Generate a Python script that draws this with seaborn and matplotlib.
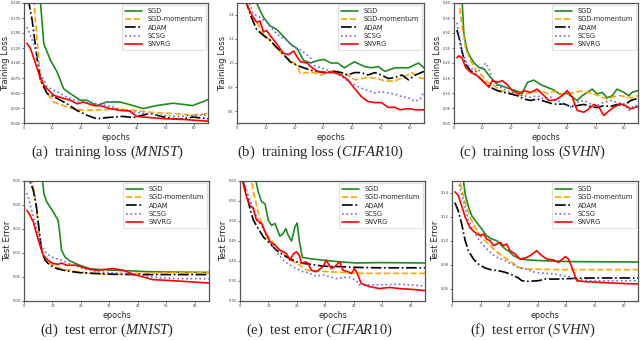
import matplotlib
matplotlib.use("Agg")
import matplotlib.pyplot as plt
import seaborn as sns
from matplotlib.ticker import FormatStrFormatter

# ---------------- data ----------------
methods = ["SGD", "SGD-momentum", "ADAM", "SCSG", "SNVRG"]
x_ticks = [0, 10, 20, 30, 40, 50, 60]

# (a) training loss MNIST
a_sgd_ep = [1, 3, 5, 5.85, 7, 9.4, 11.7, 14, 16.4, 19.9, 22.2, 25.7, 29.2, 33.9, 38.6, 42.1, 46.8, 52.6, 59.6, 65]
a_sgd = [0.60, 0.40, 0.25, 0.20, 0.132, 0.104, 0.085, 0.057, 0.049, 0.038, 0.038, 0.029, 0.035, 0.035, 0.029, 0.024, 0.029, 0.033, 0.029, 0.039]
a_mom_ep = [1, 2, 3.5, 5.85, 8.2, 10.5, 14, 17, 21, 26.9, 32.7, 38.6, 46.8, 52.6, 59.6, 65]
a_mom = [0.50, 0.35, 0.20, 0.071, 0.049, 0.035, 0.029, 0.024, 0.021, 0.022, 0.024, 0.021, 0.017, 0.016, 0.013, 0.016]
a_adam_ep = [1, 1.75, 2.9, 4.7, 5.85, 8.2, 11.7, 15.2, 18.7, 22.2, 25.7, 29.2, 35.1, 38.6, 44.4, 50.3, 55, 59.6, 65]
a_adam = [0.24, 0.20, 0.171, 0.104, 0.071, 0.049, 0.041, 0.032, 0.021, 0.013, 0.007, 0.009, 0.011, 0.009, 0.016, 0.009, 0.006, 0.010, 0.007]
a_scsg_ep = [1, 3.5, 5.85, 8.2, 11.7, 15.2, 19.9, 25.7, 30.4, 35.1, 40.9, 48, 55, 59.6, 65]
a_scsg = [0.160, 0.132, 0.082, 0.060, 0.052, 0.043, 0.035, 0.032, 0.028, 0.021, 0.017, 0.013, 0.011, 0.013, 0.013]
a_snvrg_ep = [1, 2.3, 3.5, 5.3, 7, 10.5, 14, 16.4, 18.7, 21, 24.6, 26.9, 30.4, 33.9, 37.4, 39.8, 44.4, 50.3, 56.1, 62, 65]
a_snvrg = [0.133, 0.124, 0.107, 0.082, 0.063, 0.046, 0.041, 0.038, 0.032, 0.035, 0.029, 0.029, 0.024, 0.021, 0.020, 0.011, 0.009, 0.007, 0.006, 0.004, 0.003]

# (b) training loss CIFAR10
b_sgd_ep = [1, 4, 6.8, 9.2, 11.5, 13.8, 16.2, 18.5, 20.9, 23.2, 25.6, 27.9, 30.3, 32.6, 35, 37.3, 40.8, 44.4, 46.7, 49.1, 51.4, 54.9, 59.6, 63.1, 65]
b_sgd = [2.0, 1.7, 1.5, 1.38, 1.31, 1.28, 1.22, 1.16, 1.12, 1.02, 1.00, 1.02, 1.03, 1.00, 1.00, 0.96, 1.01, 0.97, 0.96, 0.97, 0.93, 0.96, 0.96, 1.00, 0.96]
b_mom_ep = [1, 3.3, 4.5, 6.8, 9.2, 11.5, 13.8, 16.2, 18.5, 20.9, 22.1, 24.4, 26.8, 29.1, 31.5, 33.8, 36.2, 38.5, 40.8, 43.2, 45.5, 49.1, 51.4, 54.9, 58.5, 60.8, 63.1, 65]
b_mom = [1.9, 1.5, 1.42, 1.34, 1.24, 1.19, 1.12, 1.07, 1.02, 0.98, 0.91, 0.92, 0.92, 0.90, 0.92, 0.94, 0.92, 0.90, 0.86, 0.87, 0.88, 0.87, 0.85, 0.85, 0.89, 0.92, 0.88, 0.87]
b_adam_ep = [1, 3.3, 5, 6.8, 9.2, 11.5, 13.8, 16.2, 18.5, 20.9, 23.2, 25.6, 27.9, 30.3, 33.8, 36.2, 38.5, 40.8, 43.2, 45.5, 47.9, 50.2, 52.6, 54.9, 57.3, 59.6, 62, 65]
b_adam = [1.8, 1.5, 1.38, 1.28, 1.23, 1.19, 1.13, 1.07, 1.01, 0.98, 0.96, 0.94, 0.93, 0.92, 0.93, 0.92, 0.90, 0.92, 0.92, 0.90, 0.92, 0.90, 0.87, 0.88, 0.90, 0.86, 0.90, 0.93]
b_scsg_ep = [1, 3, 5.6, 8, 10.3, 12.7, 15, 17.4, 19.7, 22.1, 23.2, 25.6, 26.8, 29.1, 31.5, 33.8, 36.2, 38.5, 40.8, 43.2, 45.5, 47.9, 50.2, 52.6, 54.9, 57.3, 59.6, 62, 63.7, 65]
b_scsg = [1.9, 1.6, 1.41, 1.38, 1.34, 1.27, 1.22, 1.19, 1.13, 1.11, 1.09, 1.04, 0.98, 0.96, 0.94, 0.92, 0.89, 0.85, 0.82, 0.79, 0.77, 0.75, 0.76, 0.75, 0.74, 0.72, 0.71, 0.68, 0.70, 0.76]
b_snvrg_ep = [1, 3.3, 4.5, 5.6, 6.8, 8, 9.2, 10.3, 11.5, 13.8, 16.2, 18, 19.7, 20.9, 22.1, 24.4, 25.6, 27.9, 31.5, 33.8, 36.2, 38.5, 40.8, 43.2, 45.5, 47.9, 50.2, 52.6, 54.9, 56.7, 59.6, 62, 65]
b_snvrg = [1.8, 1.5, 1.43, 1.38, 1.34, 1.35, 1.26, 1.27, 1.23, 1.16, 1.08, 1.07, 1.10, 1.05, 1.01, 1.00, 0.97, 0.93, 0.92, 0.92, 0.90, 0.86, 0.79, 0.72, 0.68, 0.67, 0.67, 0.63, 0.63, 0.61, 0.62, 0.61, 0.61]

# (c) training loss SVHN
c_sgd_ep = [1, 2.9, 3.5, 4.7, 5.9, 7.1, 8.8, 10.6, 12.9, 15.3, 17.6, 20, 22.4, 24.1, 25.9, 28.2, 30.6, 32.9, 35.3, 37.6, 40, 41.8, 43.5, 45.3, 47.1, 48.8, 50.6, 52.4, 54.1, 55.9, 57.6, 60, 61.8, 62.9, 65]
c_sgd = [0.60, 0.40, 0.295, 0.24, 0.218, 0.200, 0.185, 0.180, 0.152, 0.128, 0.121, 0.113, 0.106, 0.099, 0.135, 0.143, 0.128, 0.119, 0.110, 0.095, 0.099, 0.086, 0.075, 0.091, 0.102, 0.113, 0.097, 0.102, 0.084, 0.091, 0.113, 0.102, 0.091, 0.102, 0.108]
c_mom_ep = [1, 1.8, 2.9, 4.1, 5.9, 8.2, 10, 11.8, 14.1, 16.5, 18.8, 21.2, 23.5, 25.9, 28.2, 30.6, 32.9, 35.3, 37.6, 40, 42.4, 44.7, 47.1, 49.4, 51.8, 54.1, 56.5, 58.8, 61.2, 62.9, 65]
c_mom = [0.48, 0.40, 0.317, 0.25, 0.207, 0.169, 0.158, 0.136, 0.125, 0.108, 0.102, 0.097, 0.091, 0.099, 0.102, 0.108, 0.099, 0.106, 0.097, 0.095, 0.102, 0.106, 0.102, 0.097, 0.088, 0.080, 0.088, 0.091, 0.086, 0.084, 0.091]
c_adam_ep = [1, 1.8, 2.9, 4.1, 5.9, 8.2, 10.6, 12.9, 15.3, 17.6, 20, 22.4, 24.7, 27.1, 29.4, 31.8, 34.1, 36.5, 38.8, 41.2, 43.5, 45.9, 48.2, 50.6, 52.9, 55.3, 57.6, 60, 62.4, 64.1, 65]
c_adam = [0.31, 0.284, 0.235, 0.196, 0.174, 0.158, 0.136, 0.119, 0.108, 0.102, 0.097, 0.091, 0.080, 0.075, 0.080, 0.073, 0.066, 0.062, 0.064, 0.055, 0.058, 0.062, 0.055, 0.051, 0.058, 0.055, 0.062, 0.058, 0.075, 0.080, 0.075]
c_scsg_ep = [1, 1.8, 2.9, 4.7, 6.5, 8.2, 10, 11.2, 12.4, 13.5, 15.3, 17.6, 20, 22.4, 24.7, 27.1, 29.4, 31.8, 34.1, 36.5, 38.8, 41.2, 43.5, 45.9, 48.2, 50.6, 52.9, 55.3, 57.6, 60, 61.8, 63.5, 65]
c_scsg = [0.334, 0.295, 0.24, 0.196, 0.180, 0.169, 0.185, 0.200, 0.180, 0.147, 0.125, 0.113, 0.102, 0.097, 0.091, 0.086, 0.091, 0.080, 0.086, 0.075, 0.062, 0.053, 0.069, 0.075, 0.064, 0.058, 0.069, 0.075, 0.069, 0.064, 0.042, 0.058, 0.058]
c_snvrg_ep = [1, 1.8, 2.9, 4.1, 5.9, 8.2, 10.6, 12.4, 13.5, 15.3, 17.1, 18.8, 20.6, 22.9, 24.7, 27.1, 29.4, 31.8, 33.5, 35.9, 38.2, 40, 41.8, 43.5, 45.9, 47.6, 49.4, 51.2, 52.9, 54.7, 56.5, 58.8, 60.6, 62.4, 65]
c_snvrg = [0.218, 0.224, 0.216, 0.185, 0.169, 0.158, 0.136, 0.119, 0.141, 0.136, 0.141, 0.128, 0.108, 0.097, 0.108, 0.102, 0.113, 0.091, 0.075, 0.077, 0.091, 0.108, 0.086, 0.042, 0.036, 0.047, 0.062, 0.053, 0.025, 0.040, 0.053, 0.064, 0.058, 0.047, 0.055]

# (d) test error MNIST
d_sgd_ep = [1, 4, 6.5, 7, 8, 10.3, 12, 12.6, 13.2, 14.4, 16.1, 19.6, 23.2, 26.7, 32.5, 38.4, 44.2, 50.1, 65]
d_sgd = [0.09, 0.065, 0.05, 0.0447, 0.0413, 0.0371, 0.0336, 0.028, 0.0211, 0.0183, 0.0167, 0.0149, 0.0135, 0.0131, 0.0128, 0.0125, 0.0122, 0.0121, 0.0119]
d_mom_ep = [1, 2.9, 3.9, 5, 6.2, 7.4, 9.1, 11.5, 13.8, 16.1, 19.6, 24.3, 30.2, 38.4, 44.2, 50.1, 65]
d_mom = [0.07, 0.05, 0.0433, 0.0308, 0.0211, 0.0176, 0.0156, 0.0142, 0.0131, 0.0128, 0.0121, 0.0114, 0.0111, 0.0114, 0.0117, 0.0118, 0.0118]
d_adam_ep = [1, 2.1, 3.3, 4.4, 5.4, 6.2, 7.4, 9.1, 11.5, 15, 19.6, 26.7, 32.5, 38.4, 65]
d_adam = [0.055, 0.05, 0.046, 0.039, 0.029, 0.021, 0.017, 0.0149, 0.0135, 0.0125, 0.0118, 0.0114, 0.0111, 0.011, 0.011]
d_scsg_ep = [1, 2.1, 3.3, 5, 6.2, 8, 10.3, 13.8, 17.3, 20.8, 26.7, 32.5, 38.4, 43, 47.7, 53.6, 65]
d_scsg = [0.045, 0.0406, 0.035, 0.028, 0.0225, 0.0197, 0.018, 0.0167, 0.0149, 0.0135, 0.0121, 0.0117, 0.0111, 0.0103, 0.0097, 0.0093, 0.0093]
d_snvrg_ep = [1, 2.1, 3.3, 4.4, 5.6, 6.8, 8.5, 10.3, 12, 13.2, 15, 18.5, 22, 25.5, 27.8, 31.3, 34.9, 38.4, 41.9, 45.4, 50.1, 55.9, 65]
d_snvrg = [0.0378, 0.0357, 0.0329, 0.028, 0.0232, 0.019, 0.0169, 0.0156, 0.0153, 0.0158, 0.0149, 0.0149, 0.0135, 0.0128, 0.0131, 0.0135, 0.0128, 0.0111, 0.0100, 0.0089, 0.0086, 0.0082, 0.0075]

# (e) test error CIFAR10
e_sgd_ep = [1, 3, 5.6, 6.4, 7.6, 8.8, 9.9, 11.1, 12.3, 14, 15.2, 16.1, 16.9, 18.1, 19.3, 20.1, 20.8, 21.9, 24.5, 29.2, 35, 40.8, 49, 65]
e_sgd = [0.75, 0.66, 0.60, 0.573, 0.548, 0.543, 0.502, 0.489, 0.494, 0.462, 0.469, 0.481, 0.465, 0.450, 0.485, 0.495, 0.452, 0.409, 0.406, 0.402, 0.398, 0.395, 0.396, 0.395]
e_mom_ep = [1, 4.1, 4.7, 5.8, 7, 8.8, 10.5, 12.3, 14, 16.3, 18.7, 21, 23.3, 25.7, 31.5, 37.3, 43.2, 65]
e_mom = [0.68, 0.60, 0.573, 0.539, 0.506, 0.473, 0.456, 0.440, 0.427, 0.410, 0.398, 0.390, 0.377, 0.376, 0.373, 0.371, 0.369, 0.369]
e_adam_ep = [1, 2.3, 3.5, 4.7, 6.4, 8.2, 10.5, 12.8, 15.2, 17.5, 19.8, 22.2, 25.7, 29.2, 35, 40.8, 49, 65]
e_adam = [0.60, 0.568, 0.531, 0.502, 0.481, 0.460, 0.444, 0.427, 0.415, 0.406, 0.398, 0.394, 0.391, 0.387, 0.386, 0.384, 0.383, 0.383]
e_scsg_ep = [1, 2.3, 3.5, 5.3, 7, 8.8, 10.5, 12.8, 15.2, 17.5, 19.8, 22.2, 24.5, 26.8, 29.2, 31.5, 33.8, 36.2, 38.5, 40.8, 42, 45.5, 51.3, 56, 60.7, 65]
e_scsg = [0.61, 0.577, 0.552, 0.519, 0.494, 0.473, 0.448, 0.423, 0.402, 0.390, 0.381, 0.373, 0.369, 0.362, 0.365, 0.361, 0.356, 0.359, 0.359, 0.352, 0.340, 0.340, 0.341, 0.342, 0.340, 0.337]
e_snvrg_ep = [1, 2.3, 3.5, 4.7, 5.8, 7.6, 8.8, 10.5, 12.3, 14, 16.3, 17.5, 18.7, 19.8, 20.8, 21.6, 22.8, 23.9, 25.1, 26.8, 29.2, 30.3, 32.1, 33.3, 35, 36.2, 37.9, 39.1, 40.3, 41.4, 42.6, 45.5, 49, 52.5, 56, 60.7, 65]
e_snvrg = [0.597, 0.560, 0.539, 0.531, 0.502, 0.494, 0.473, 0.448, 0.440, 0.427, 0.419, 0.402, 0.417, 0.423, 0.415, 0.394, 0.398, 0.395, 0.377, 0.373, 0.386, 0.402, 0.381, 0.386, 0.398, 0.377, 0.373, 0.369, 0.381, 0.365, 0.344, 0.336, 0.331, 0.334, 0.331, 0.329, 0.326]

# (f) test error SVHN
f_sgd_ep = [1, 3, 4, 4.6, 5.7, 6.9, 8.6, 10.4, 12.1, 13.9, 15.6, 17.4, 18.6, 19.7, 21.5, 23.8, 26.7, 31.4, 37.2, 43.1, 65]
f_sgd = [0.20, 0.16, 0.15, 0.139, 0.129, 0.121, 0.1156, 0.110, 0.1044, 0.1017, 0.1003, 0.0961, 0.0933, 0.0919, 0.0878, 0.0850, 0.0842, 0.0836, 0.0831, 0.0828, 0.0825]
f_mom_ep = [1, 2.8, 3.4, 4.6, 6.3, 8.1, 10.4, 12.7, 15.1, 17.4, 20.9, 23.8, 26.7, 31.4, 37.2, 65]
f_mom = [0.17, 0.15, 0.143, 0.132, 0.120, 0.111, 0.103, 0.0975, 0.092, 0.0878, 0.0822, 0.0775, 0.0767, 0.0764, 0.0761, 0.0761]
f_adam_ep = [1, 2.2, 3.4, 4.6, 5.7, 7.5, 9.2, 11.6, 13.9, 16.2, 18.6, 20.9, 23.2, 24.4, 26.7, 30.2, 32.6, 37.2, 43.1, 48.9, 65]
f_adam = [0.132, 0.125, 0.114, 0.1003, 0.0919, 0.085, 0.0808, 0.0775, 0.0758, 0.0753, 0.0739, 0.0719, 0.0692, 0.0669, 0.0664, 0.0669, 0.0683, 0.0683, 0.0689, 0.0692, 0.0692]
f_scsg_ep = [1, 2.2, 3.4, 4.6, 5.7, 7.5, 9.2, 11.6, 13.9, 16.2, 18.6, 20.9, 23.2, 25.6, 29.1, 32.6, 36.1, 38.4, 40.7, 43.1, 45.4, 48.9, 65]
f_scsg = [0.165, 0.150, 0.139, 0.128, 0.117, 0.1086, 0.1017, 0.0947, 0.0892, 0.0858, 0.0836, 0.0808, 0.078, 0.0767, 0.0739, 0.0731, 0.0725, 0.0711, 0.0703, 0.0683, 0.0675, 0.0669, 0.0669]
f_snvrg_ep = [1, 2.2, 3.4, 4.6, 6.3, 8.1, 9.8, 11, 12.1, 13.3, 14.5, 15.6, 16.8, 18, 19.1, 20.3, 22.1, 23.8, 25.6, 27.3, 29.6, 31.4, 33.1, 35.5, 37.2, 39.6, 40.7, 41.9, 43.6, 46.6, 51.2, 58.2, 65]
f_snvrg = [0.141, 0.138, 0.129, 0.120, 0.111, 0.107, 0.1044, 0.1058, 0.1017, 0.1003, 0.0961, 0.0975, 0.0989, 0.0961, 0.0975, 0.0919, 0.0892, 0.085, 0.0858, 0.0878, 0.0919, 0.0878, 0.085, 0.0842, 0.0822, 0.0869, 0.085, 0.078, 0.0669, 0.0661, 0.0656, 0.0647, 0.0642]

a_yticks = [0.000, 0.025, 0.050, 0.075, 0.100, 0.125, 0.150, 0.175, 0.200]
b_yticks = [0.6, 0.8, 1.0, 1.2, 1.4]
c_yticks = [0.00, 0.05, 0.10, 0.15, 0.20, 0.25, 0.30, 0.35, 0.40]
d_yticks = [0.00, 0.01, 0.02, 0.03, 0.04, 0.05]
e_yticks = [0.30, 0.35, 0.40, 0.45, 0.50, 0.55, 0.60]
f_yticks = [0.06, 0.08, 0.10, 0.12, 0.14]

captions_pre = ["(a)  training loss (", "(b)  training loss (", "(c)  training loss (",
                "(d)  test error (", "(e)  test error (", "(f)  test error ("]
captions_ds = ["MNIST", "CIFAR10", "SVHN", "MNIST", "CIFAR10", "SVHN"]
ylabels = ["Training Loss"] * 3 + ["Test Error"] * 3

# ---------------- style ----------------
sns.set_style("ticks")
plt.rcParams["font.family"] = ["DejaVu Sans"]
plt.rcParams["mathtext.fontset"] = "custom"
plt.rcParams["mathtext.it"] = "Liberation Serif:italic"
plt.rcParams["mathtext.rm"] = "Liberation Serif"

colors = ["#1e8c1e", "#ffa500", "#000000", "#6b6bea", "#ff0000"]
styles = ["-", "--", "-.", ":", "-"]

fig = plt.figure(figsize=(6.4, 3.4), dpi=100)
W, H = 640.0, 340.0

# axes boxes in pixels: left, top, right, bottom
boxes = [(24, 3, 208, 123), (237, 3, 424, 123), (454, 3, 638, 123),
         (24, 181, 209, 301), (240, 181, 425, 301), (452, 181, 638, 301)]
cap_pos = [(107, 152), (321, 152), (532, 152), (107, 330), (319, 330), (533, 330)]

panels = [
    ([a_sgd_ep, a_mom_ep, a_adam_ep, a_scsg_ep, a_snvrg_ep], [a_sgd, a_mom, a_adam, a_scsg, a_snvrg], (0.0, 0.2), a_yticks, "%.3f"),
    ([b_sgd_ep, b_mom_ep, b_adam_ep, b_scsg_ep, b_snvrg_ep], [b_sgd, b_mom, b_adam, b_scsg, b_snvrg], (0.5, 1.5), b_yticks, "%.1f"),
    ([c_sgd_ep, c_mom_ep, c_adam_ep, c_scsg_ep, c_snvrg_ep], [c_sgd, c_mom, c_adam, c_scsg, c_snvrg], (0.0, 0.4), c_yticks, "%.2f"),
    ([d_sgd_ep, d_mom_ep, d_adam_ep, d_scsg_ep, d_snvrg_ep], [d_sgd, d_mom, d_adam, d_scsg, d_snvrg], (0.0, 0.05), d_yticks, "%.2f"),
    ([e_sgd_ep, e_mom_ep, e_adam_ep, e_scsg_ep, e_snvrg_ep], [e_sgd, e_mom, e_adam, e_scsg, e_snvrg], (0.3, 0.6), e_yticks, "%.2f"),
    ([f_sgd_ep, f_mom_ep, f_adam_ep, f_scsg_ep, f_snvrg_ep], [f_sgd, f_mom, f_adam, f_scsg, f_snvrg], (0.05, 0.15), f_yticks, "%.2f"),
]

for i, (xs, ys, ylim, yt, fmt) in enumerate(panels):
    l, t, r, b = boxes[i]
    ax = fig.add_axes([l / W, 1 - b / H, (r - l) / W, (b - t) / H])
    for m, xv, yv, col, ls in zip(methods, xs, ys, colors, styles):
        sns.lineplot(x=xv, y=yv, ax=ax, color=col, linestyle=ls, linewidth=1.2,
                     label=m, sort=False)
    ax.set_xlim(0, 65)
    ax.set_ylim(*ylim)
    ax.set_xticks(x_ticks)
    ax.set_yticks(yt)
    ax.yaxis.set_major_formatter(FormatStrFormatter(fmt))
    ax.tick_params(axis="both", labelsize=2.5, length=1.5, width=0.5, pad=0.8, colors="#333333")
    for s in ax.spines.values():
        s.set_linewidth(0.9)
        s.set_color("#555555")
    ax.set_xlabel("epochs", fontsize=5.8, labelpad=1.8)
    ax.set_ylabel(ylabels[i], fontsize=6.1, labelpad=0.6)
    leg = ax.legend(loc="upper right", fontsize=4.8, handlelength=2.6, labelspacing=0.35,
                    borderpad=0.45, handletextpad=0.8, frameon=True, fancybox=True,
                    borderaxespad=0.3)
    leg.get_frame().set_linewidth(0.5)
    leg.get_frame().set_edgecolor("#cccccc")
    cx, cy = cap_pos[i]
    fig.text(cx / W, 1 - cy / H, captions_pre[i] + r"$\mathit{" + captions_ds[i] + r"}$)",
             ha="center", va="center", fontsize=10.5, family="Liberation Serif")

fig.savefig("out.png", dpi=100)
